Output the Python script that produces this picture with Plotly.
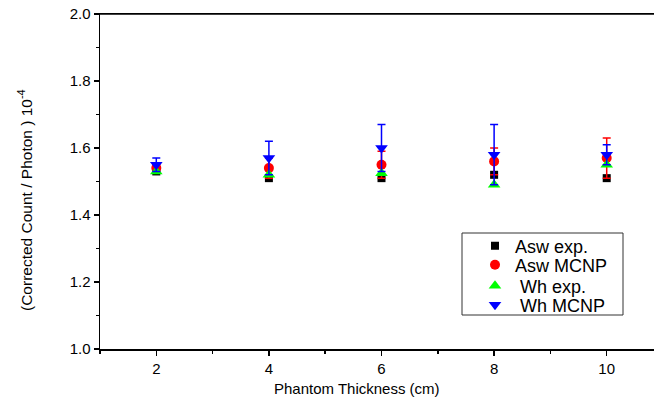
import plotly.graph_objects as go

thickness = [2, 4, 6, 8, 10]
asw_exp = [1.53, 1.51, 1.51, 1.52, 1.51]
asw_mcnp = [1.54, 1.54, 1.55, 1.56, 1.57]
asw_mcnp_err = [0.01, 0.03, 0.04, 0.04, 0.06]
wh_exp = [1.53, 1.52, 1.525, 1.49, 1.55]
wh_mcnp = [1.55, 1.57, 1.60, 1.58, 1.58]
wh_mcnp_err = [0.02, 0.05, 0.07, 0.09, 0.03]
series_names = ["Asw exp.", "Asw MCNP", "\u00a0Wh exp.", "\u00a0Wh MCNP"]

FONT = "Arial, Liberation Sans, sans-serif"

# plot-area geometry in page pixels
PL, PR, PT, PB = 100, 654, 14, 349
def px_x(sx):
    return (sx - PL) / (PR - PL)
def px_y(sy):
    return (PB - sy) / (PB - PT)

fig = go.Figure()
fig.add_trace(go.Scatter(x=thickness, y=asw_exp, mode="markers", name=series_names[0],
                         legend="legend",
                         marker=dict(symbol="square", size=8, color="#000000")))
fig.add_trace(go.Scatter(x=thickness, y=asw_mcnp, mode="markers", name=series_names[1],
                         legend="legend2",
                         marker=dict(symbol="circle", size=10, color="#ff0000"),
                         error_y=dict(type="data", array=asw_mcnp_err, visible=True,
                                      color="#ff0000", thickness=1.5, width=4)))
fig.add_trace(go.Scatter(x=thickness, y=wh_exp, mode="markers", name=series_names[2],
                         legend="legend3",
                         marker=dict(symbol="triangle-up", size=11, color="#00ff00")))
fig.add_trace(go.Scatter(x=thickness, y=wh_mcnp, mode="markers", name=series_names[3],
                         legend="legend4",
                         marker=dict(symbol="triangle-down", size=11, color="#0000ff"),
                         error_y=dict(type="data", array=wh_mcnp_err, visible=True,
                                      color="#0000ff", thickness=1.5, width=4)))

LEG_X = 475
leg_common = dict(xanchor="left", yanchor="middle", bgcolor="rgba(0,0,0,0)",
                  borderwidth=0, font=dict(family=FONT, size=18, color="#000000"),
                  itemwidth=30)
legend_ys = [246, 265, 286, 305]

fig.update_layout(
    width=654, height=404,
    margin=dict(l=PL, r=654 - PR, t=PT, b=404 - PB),
    paper_bgcolor="white", plot_bgcolor="white",
    font=dict(family=FONT, size=15, color="#000000"),
    showlegend=True,
    hovermode=False,
    legend=dict(x=px_x(LEG_X), y=px_y(legend_ys[0]), **leg_common),
    legend2=dict(x=px_x(LEG_X), y=px_y(legend_ys[1]), **leg_common),
    legend3=dict(x=px_x(LEG_X), y=px_y(legend_ys[2]), **leg_common),
    legend4=dict(x=px_x(LEG_X), y=px_y(legend_ys[3]), **leg_common),
    xaxis=dict(range=[1, 10.84], tickvals=[2, 4, 6, 8, 10], automargin=False,
               ticks="outside", ticklen=5, tickwidth=1.5, tickcolor="#000000",
               minor=dict(dtick=1, tick0=1, ticks="outside", ticklen=3, tickwidth=1.5, tickcolor="#000000"),
               showline=True, linewidth=1.5, linecolor="#000000", mirror=True,
               showgrid=False, zeroline=False, ticklabeloverflow="allow",
               tickfont=dict(family=FONT, size=15)),
    yaxis=dict(range=[1.0, 2.0], dtick=0.2, tick0=1.0, tickformat=".1f", automargin=False,
               ticks="outside", ticklen=5, tickwidth=1.5, tickcolor="#000000",
               minor=dict(dtick=0.1, ticks="outside", ticklen=3, tickwidth=1.5, tickcolor="#000000"),
               showline=True, linewidth=1.5, linecolor="#000000", mirror=False,
               showgrid=False, zeroline=False, ticklabeloverflow="allow",
               tickfont=dict(family=FONT, size=15)),
    shapes=[
        dict(type="rect", xref="paper", yref="paper",
             x0=px_x(462), x1=px_x(623), y0=px_y(315), y1=px_y(233),
             line=dict(color="#333333", width=1), fillcolor="rgba(0,0,0,0)", layer="above"),
        dict(type="line", xref="paper", yref="paper", x0=0, x1=1, y0=1, y1=1,
             line=dict(color="#000000", width=1.5), layer="above"),
    ],
    annotations=[
        dict(text="Phantom Thickness (cm)", xref="paper", yref="paper",
             x=px_x(357), y=px_y(389), xanchor="center", yanchor="middle",
             showarrow=False, font=dict(family=FONT, size=15, color="#000000")),
        dict(text="(Corrected Count / Photon ) 10<sup>-4</sup>", xref="paper", yref="paper",
             x=px_x(25), y=px_y(200), xanchor="center", yanchor="middle",
             textangle=-90, showarrow=False, font=dict(family=FONT, size=15.5, color="#000000")),
    ],
)

fig.write_html("out.html", config={"displayModeBar": False, "staticPlot": True},
               post_script="document.body.style.margin='0';document.body.style.overflow='hidden';")
